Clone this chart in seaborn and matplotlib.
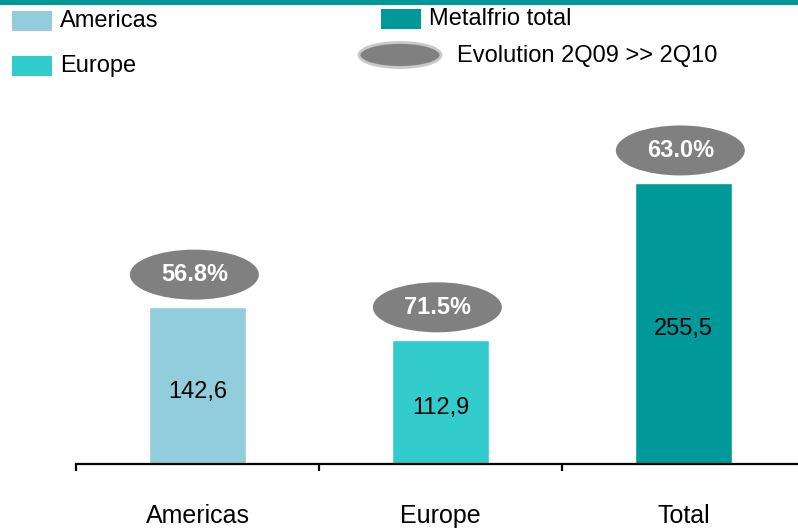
import numpy as np
import pandas as pd
import matplotlib.pyplot as plt
from matplotlib.patches import Ellipse, Rectangle
import seaborn as sns

sns.set_style("white")
plt.rcParams['font.family'] = ['Liberation Sans', 'DejaVu Sans']
plt.rcParams['text.color'] = 'black'

# data
regions = ["Americas", "Europe", "Total"]
revenue = [142.6, 112.9, 255.5]
value_labels = ["142,6", "112,9", "255,5"]
growth_labels = ["56.8%", "71.5%", "63.0%"]
colors = ["#92CDDC", "#33CCCC", "#009999"]
legend_names = ["Americas", "Europe", "Metalfrio total"]
ellipse_legend = "Evolution 2Q09 >> 2Q10"

df = pd.DataFrame({"region": regions, "revenue": revenue})

W, H = 798, 528
fig = plt.figure(figsize=(W / 100, H / 100), dpi=100)


def fx(x):
    return x / W


def fy(y):
    return 1 - y / H


# axes placed in pixel terms: baseline at y=464, categories 243 px apart
ax = fig.add_axes([fx(76), fy(464), 729 / W, (464 - 100) / H])
sns.barplot(data=df, x="region", y="revenue", hue="region",
            palette=colors, width=0.4, legend=False, ax=ax, saturation=1)

ax.set_xlim(-0.5, 2.5)
ax.set_ylim(0, 364 / 1.1)
ax.set_xlabel("")
ax.set_ylabel("")
ax.set_yticks([])
for s in ["top", "left", "right"]:
    ax.spines[s].set_visible(False)
ax.spines["bottom"].set_color("black")
ax.spines["bottom"].set_linewidth(1.6)
ax.set_xticks([-0.5, 0.5, 1.5, 2.5], minor=True)
ax.tick_params(axis="x", which="minor", bottom=True, length=5, width=1.6,
               color="black", direction="out")
ax.tick_params(axis="x", which="major", length=0, pad=29, labelsize=18, labelcolor="black")

px_per_unit = 1.1
for i, (v, lab, g) in enumerate(zip(revenue, value_labels, growth_labels)):
    ax.annotate(lab, (i, v / 2), xytext=(0, -4.3), textcoords="offset points",
                ha="center", va="center", fontsize=17, color="black")
    cy = v + 32.5 / px_per_unit
    ax.add_patch(Ellipse((i - 0.013, cy), 129 / 243, 50 / px_per_unit,
                         facecolor="#808080", edgecolor="none", clip_on=False))
    ax.text(i - 0.013, cy, g, ha="center", va="center", fontsize=17,
            fontweight="bold", color="white")

# top band
fig.add_artist(Rectangle((0, fy(5)), 1, 5 / H, transform=fig.transFigure,
                         facecolor="#009999", edgecolor="none"))

# manual legend
legend_boxes = [(12, 11), (12, 56), (381, 9)]
for (x, y), name, c in zip(legend_boxes, legend_names, colors):
    fig.add_artist(Rectangle((fx(x), fy(y + 20)), 40 / W, 20 / H,
                             transform=fig.transFigure, facecolor=c, edgecolor="none"))
    fig.text(fx(x + 48), fy(y + 10), name, ha="left", va="center", fontsize=17,
             color="black")

fig.add_artist(Ellipse((fx(400), fy(55)), 82 / W, 25 / H, transform=fig.transFigure,
                       facecolor="#808080", edgecolor="#C8C8C8", linewidth=2))
fig.text(fx(457), fy(56), ellipse_legend, ha="left", va="center", fontsize=17,
         color="black")

fig.savefig("out.png", dpi=100)
